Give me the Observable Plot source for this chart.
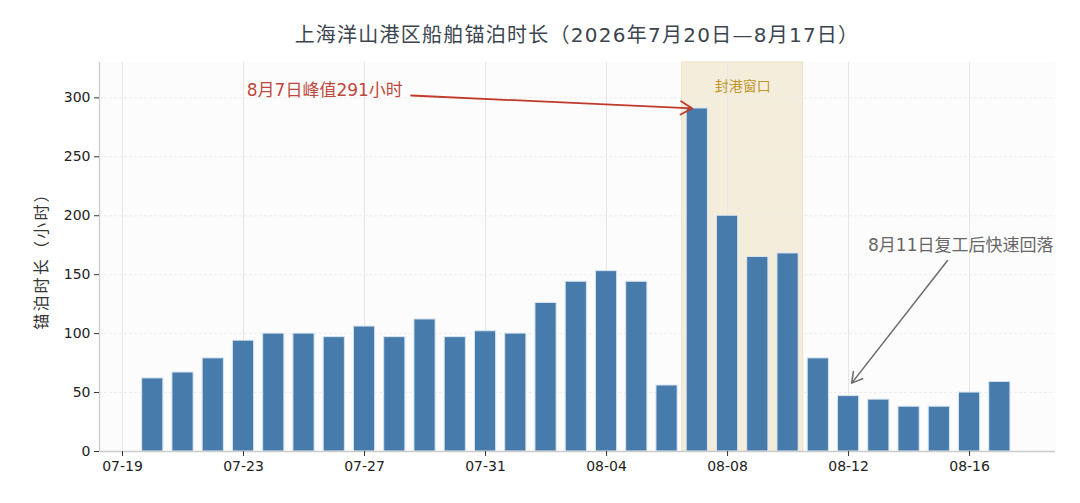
<!DOCTYPE html>
<html>
<head>
<meta charset="utf-8">
<script src="https://cdn.jsdelivr.net/npm/d3@7"></script>
<script src="https://cdn.jsdelivr.net/npm/@observablehq/plot@0.6"></script>
<style>
  html, body { margin: 0; padding: 0; background: #fff; }
  body { width: 1080px; height: 503px; overflow: hidden; font-family: "DejaVu Sans", "Noto Sans CJK SC", sans-serif; }
  #title { height: 50px; box-sizing: border-box; padding: 22px 25px 0 99px; line-height: 26px; text-align: center; font-size: 20px; letter-spacing: 1.25px; color: #3a4550; white-space: nowrap; }
  #chart svg { display: block; }
  #chart svg text { font-family: "DejaVu Sans", "Noto Sans CJK SC", sans-serif; }
  #chart g[aria-label="y-axis label"] text { font-size: 16px; letter-spacing: 2.2px; fill: #333; }
</style>
</head>
<body>
<div id="title">上海洋山港区船舶锚泊时长（2026年7月20日—8月17日）</div>
<div id="chart"></div>
<script>
const dates = ["2026-07-20","2026-07-21","2026-07-22","2026-07-23","2026-07-24","2026-07-25","2026-07-26","2026-07-27","2026-07-28","2026-07-29","2026-07-30","2026-07-31","2026-08-01","2026-08-02","2026-08-03","2026-08-04","2026-08-05","2026-08-06","2026-08-07","2026-08-08","2026-08-09","2026-08-10","2026-08-11","2026-08-12","2026-08-13","2026-08-14","2026-08-15","2026-08-16","2026-08-17"];
const hours = [62, 67, 79, 94, 100, 100, 97, 106, 97, 112, 97, 102, 100, 126, 144, 153, 144, 56, 291, 200, 165, 168, 79, 47, 44, 38, 38, 50, 59];
const xTicks = ["2026-07-19","2026-07-23","2026-07-27","2026-07-31","2026-08-04","2026-08-08","2026-08-12","2026-08-16"];
const yTicks = [0, 50, 100, 150, 200, 250, 300];
const xDomain = ["2026-07-18T05:45Z", "2026-08-18T20:10Z"];
const yDomain = [0, 330];
const closureWindow = ["2026-08-06T12:00Z", "2026-08-10T12:00Z"];
const closureLabel = "封港窗口";
const peakNote = {text: "8月7日峰值291小时", textAt: ["2026-07-25T16:30Z", 306], from: ["2026-07-28T13:00Z", 302], to: ["2026-08-06T20:00Z", 291]};
const recoverNote = {text: "8月11日复工后快速回落", textAt: ["2026-08-15T17:00Z", 175], from: ["2026-08-15T06:30Z", 162], to: ["2026-08-12T02:30Z", 58]};

const D = s => new Date(s.length === 10 ? s + "T00:00Z" : s);
const DAY = 864e5;
const data = dates.map((d, i) => ({date: D(d), hours: hours[i]}));
const tickDates = xTicks.map(D);

const chart = Plot.plot({
  width: 1080,
  height: 453,
  marginLeft: 99,
  marginRight: 25,
  marginTop: 12,
  marginBottom: 52,
  style: {background: "#fff", fontSize: "14px", color: "#222"},
  x: {type: "utc", domain: xDomain.map(D)},
  y: {domain: yDomain},
  marks: [
    Plot.frame({fill: "#fcfcfc", stroke: null}),
    Plot.rect([closureWindow], {x1: d => D(d[0]), x2: d => D(d[1]), y1: yDomain[0], y2: yDomain[1], fill: "#f4eddc", stroke: "#ede1c2", strokeWidth: 1}),
    Plot.gridX(tickDates, {stroke: "#e6e6e6", strokeOpacity: 1, strokeWidth: 1}),
    Plot.gridY(yTicks.slice(1), {stroke: "#ededed", strokeOpacity: 1, strokeDasharray: "3,2"}),
    Plot.text([closureLabel], {x: D(closureWindow[0]).getTime() / 2 + D(closureWindow[1]).getTime() / 2, y: 310, text: d => d, fill: "#c0962c", fontSize: 14, textAnchor: "middle", style: "letter-spacing:1.6px"}),
    Plot.rectY(data, {x1: d => new Date(+d.date - 0.35 * DAY), x2: d => new Date(+d.date + 0.35 * DAY), y1: 0, y2: "hours", fill: "#4077a9", fillOpacity: 0.97, stroke: "#d8e4ef", strokeWidth: 1}),
    Plot.ruleY([0], {stroke: "#cccccc", strokeWidth: 1.3}),
    Plot.ruleX([D(xDomain[0])], {stroke: "#cccccc", strokeWidth: 1.3}),
    Plot.axisX(tickDates, {tickFormat: d3.utcFormat("%m-%d"), tickSize: 5, tickPadding: 5, fontSize: 14, fill: "#222", stroke: "#333", label: null}),
    Plot.axisY(yTicks, {tickSize: 5, tickPadding: 4, fontSize: 14, fill: "#222", stroke: "#333", label: "锚泊时长（小时）", labelAnchor: "center", labelOffset: 64, labelArrow: "none"}),
    Plot.arrow([peakNote], {x1: d => D(d.from[0]), y1: d => d.from[1], x2: d => D(d.to[0]), y2: d => d.to[1], stroke: "#c0392b", strokeWidth: 1.8, headLength: 11, bend: 0}),
    Plot.text([peakNote], {x: d => D(d.textAt[0]), y: d => d.textAt[1], text: "text", fill: "#c0473c", fontSize: 17, textAnchor: "middle", style: "letter-spacing:2.6px"}),
    Plot.arrow([recoverNote], {x1: d => D(d.from[0]), y1: d => d.from[1], x2: d => D(d.to[0]), y2: d => d.to[1], stroke: "#707070", strokeWidth: 1.6, headLength: 11, bend: 0}),
    Plot.text([recoverNote], {x: d => D(d.textAt[0]), y: d => d.textAt[1], text: "text", fill: "#666", fontSize: 17, textAnchor: "middle", style: "letter-spacing:2.6px"})
  ]
});
document.getElementById("chart").appendChild(chart);
</script>
</body>
</html>
